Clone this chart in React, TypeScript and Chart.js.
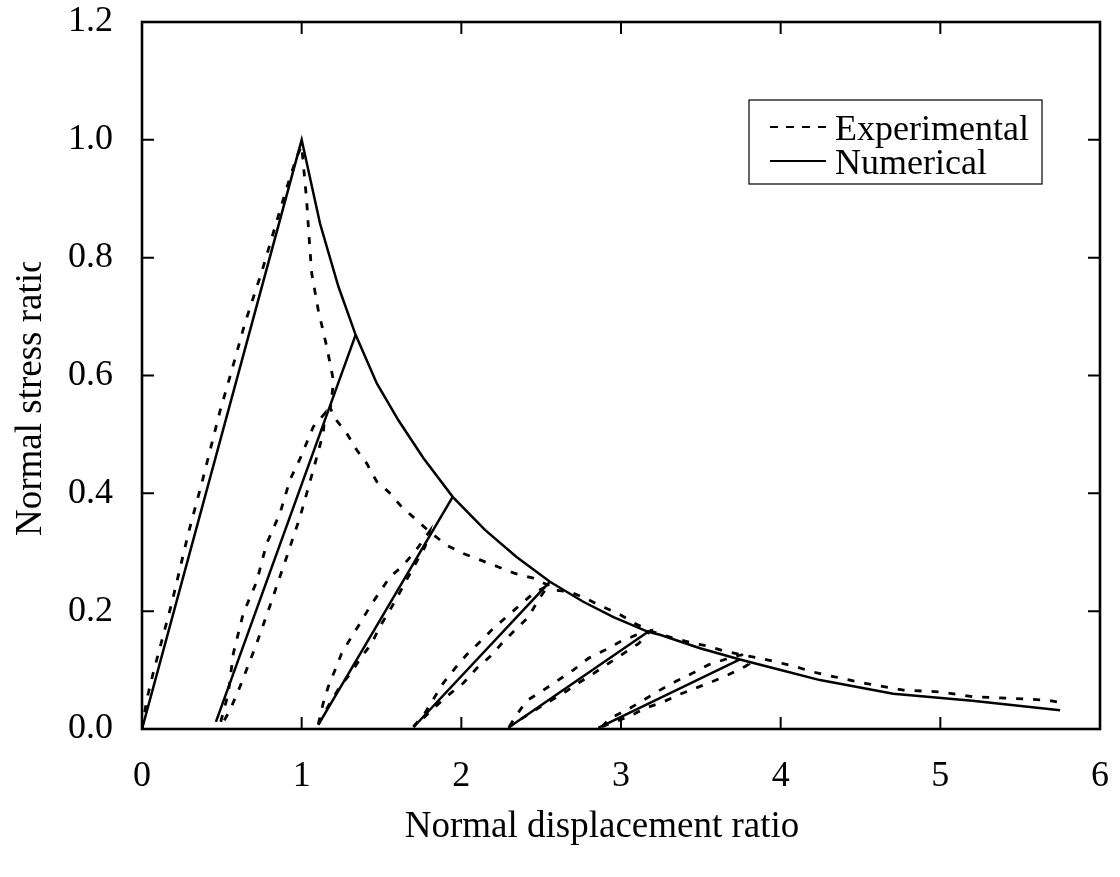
import React, { useEffect, useRef } from "react";
import { Chart, registerables } from "chart.js";

Chart.register(...registerables);

type P = [number, number];

const FONT = "'Liberation Serif', 'Times New Roman', Times, serif";
const FS = 36;
const TITLE_FS = 37;

const xTicks = [0, 1, 2, 3, 4, 5, 6];
const yTicks = [0, 0.2, 0.4, 0.6, 0.8, 1.0, 1.2];
const xTitle = "Normal displacement ratio";
const yTitle = "Normal stress ratio";
const legendLabels = ["Experimental", "Numerical"];

// ---------- Experimental (dashed) ----------
const expEnvelope: P[] = [
  [0, 0], [0.03, 0.05], [0.07, 0.095], [0.186, 0.213], [0.29, 0.332], [0.374, 0.417],
  [0.489, 0.54], [0.551, 0.598], [0.645, 0.689], [0.75, 0.776], [0.843, 0.861],
  [0.906, 0.918], [0.969, 0.971], [1.0, 0.99], [1.01, 0.96], [1.031, 0.898],
  [1.046, 0.836], [1.063, 0.773], [1.104, 0.711], [1.157, 0.649], [1.2, 0.59],
  [1.18, 0.545], [1.2, 0.53], [1.282, 0.502], [1.344, 0.474], [1.407, 0.451],
  [1.47, 0.42], [1.511, 0.411], [1.553, 0.4], [1.626, 0.377], [1.71, 0.357],
  [1.8, 0.335], [1.908, 0.312], [2.01, 0.298], [2.117, 0.287], [2.232, 0.275],
  [2.336, 0.264], [2.451, 0.256], [2.545, 0.244], [2.565, 0.236], [2.68, 0.233],
  [2.785, 0.221], [2.88, 0.208], [2.983, 0.196], [3.087, 0.179], [3.2, 0.165],
  [3.317, 0.155], [3.43, 0.147], [3.537, 0.141], [3.64, 0.133], [3.756, 0.126],
  [3.87, 0.12], [3.985, 0.113], [4.09, 0.106], [4.2, 0.097], [4.33, 0.089],
  [4.54, 0.077], [4.77, 0.066], [5.0, 0.063], [5.2, 0.055], [5.44, 0.052],
  [5.67, 0.049], [5.79, 0.043],
];

const expLoop2Upper: P[] = [
  [0.493, 0.012], [0.54, 0.06], [0.572, 0.128], [0.634, 0.196], [0.718, 0.25],
  [0.781, 0.315], [0.864, 0.366], [0.927, 0.423], [0.99, 0.459], [1.073, 0.513],
  [1.146, 0.536],
];
const expLoop2Lower: P[] = [
  [0.51, 0.012], [0.551, 0.032], [0.614, 0.072], [0.718, 0.145], [0.8, 0.208],
  [0.906, 0.292], [0.99, 0.36], [1.073, 0.44], [1.135, 0.502], [1.146, 0.536],
];

const expLoop3Upper: P[] = [
  [1.104, 0.008], [1.135, 0.044], [1.167, 0.072], [1.209, 0.1], [1.25, 0.128],
  [1.313, 0.157], [1.365, 0.179], [1.428, 0.208], [1.49, 0.233], [1.553, 0.258],
  [1.637, 0.278], [1.72, 0.305], [1.8, 0.335],
];
const expLoop3Lower: P[] = [
  [1.104, 0.008], [1.177, 0.044], [1.24, 0.072], [1.313, 0.097], [1.376, 0.123],
  [1.438, 0.145], [1.49, 0.174], [1.553, 0.202], [1.605, 0.227], [1.657, 0.253],
  [1.72, 0.284], [1.772, 0.309], [1.8, 0.335],
];

const expLoop4Upper: P[] = [
  [1.7, 0.004], [1.772, 0.027], [1.835, 0.055], [1.887, 0.078], [1.96, 0.103],
  [2.033, 0.126], [2.117, 0.148], [2.19, 0.168], [2.273, 0.188], [2.357, 0.208],
  [2.45, 0.23], [2.545, 0.244],
];
const expLoop4Lower: P[] = [
  [1.7, 0.004], [1.772, 0.021], [1.846, 0.04], [1.93, 0.06], [2.013, 0.078],
  [2.096, 0.103], [2.18, 0.123], [2.253, 0.145], [2.336, 0.168], [2.42, 0.19],
  [2.482, 0.219], [2.545, 0.244],
];

const expLoop5Upper: P[] = [
  [2.3, 0.004], [2.346, 0.024], [2.41, 0.048], [2.514, 0.066], [2.607, 0.083],
  [2.701, 0.1], [2.796, 0.12], [2.9, 0.134], [2.994, 0.148], [3.098, 0.16],
  [3.18, 0.166],
];
const expLoop5Lower: P[] = [
  [2.3, 0.004], [2.45, 0.03], [2.54, 0.045], [2.64, 0.061], [2.733, 0.078],
  [2.827, 0.094], [2.92, 0.111], [3.015, 0.128], [3.11, 0.145], [3.16, 0.16],
  [3.18, 0.166],
];

const expLoop6Upper: P[] = [
  [2.88, 0.004], [2.93, 0.018], [3.035, 0.032], [3.14, 0.049], [3.244, 0.066],
  [3.338, 0.08], [3.443, 0.094], [3.548, 0.109], [3.65, 0.118], [3.756, 0.126],
];
const expLoop6Lower: P[] = [
  [2.88, 0.004], [2.95, 0.011], [3.056, 0.022], [3.16, 0.036], [3.265, 0.046],
  [3.359, 0.058], [3.464, 0.069], [3.568, 0.08], [3.672, 0.092], [3.777, 0.106],
  [3.8, 0.11],
];

// ---------- Numerical (solid) ----------
const numEnvelope: P[] = [
  [0, 0], [1.0, 1.0], [1.115, 0.858], [1.23, 0.751], [1.338, 0.669], [1.47, 0.587],
  [1.606, 0.524], [1.762, 0.46], [1.946, 0.394], [2.148, 0.338], [2.346, 0.292],
  [2.555, 0.25], [2.764, 0.216], [2.953, 0.19], [3.17, 0.165], [3.244, 0.16],
  [3.495, 0.137], [3.745, 0.118], [4.0, 0.1], [4.246, 0.083], [4.705, 0.06],
  [5.2, 0.048], [5.75, 0.032],
];
const numBranch2: P[] = [[0.463, 0.012], [1.338, 0.669]];
const numBranch3: P[] = [[1.104, 0.007], [1.946, 0.394]];
const numBranch4: P[] = [[1.7, 0.003], [2.555, 0.25]];
const numBranch5: P[] = [[2.294, 0.002], [3.17, 0.165]];
const numBranch6: P[] = [[2.858, 0.002], [3.745, 0.118]];

const expSeries: P[][] = [
  expEnvelope,
  [...expLoop2Upper, ...expLoop2Lower.slice().reverse()],
  [...expLoop3Upper, ...expLoop3Lower.slice().reverse()],
  [...expLoop4Upper, ...expLoop4Lower.slice().reverse()],
  [...expLoop5Upper, ...expLoop5Lower.slice().reverse()],
  [...expLoop6Upper, ...expLoop6Lower.slice().reverse()],
];
const numSeries: P[][] = [numEnvelope, numBranch2, numBranch3, numBranch4, numBranch5, numBranch6];

const DATA_DASH = [7, 10];

const framePlugin = {
  id: "frameAndLegend",
  afterDraw(chart: any) {
    const { ctx, chartArea: a, scales } = chart;
    ctx.save();
    ctx.strokeStyle = "#000";
    ctx.setLineDash([]);
    // inward ticks
    ctx.lineWidth = 2;
    const TL = 12;
    ctx.beginPath();
    for (const v of xTicks) {
      const px = scales.x.getPixelForValue(v);
      ctx.moveTo(px, a.bottom);
      ctx.lineTo(px, a.bottom - TL);
      ctx.moveTo(px, a.top);
      ctx.lineTo(px, a.top + TL);
    }
    for (const v of yTicks) {
      const py = scales.y.getPixelForValue(v);
      ctx.moveTo(a.left, py);
      ctx.lineTo(a.left + TL, py);
      ctx.moveTo(a.right, py);
      ctx.lineTo(a.right - TL, py);
    }
    ctx.stroke();
    // frame
    ctx.lineWidth = 2.6;
    ctx.strokeRect(a.left, a.top, a.right - a.left, a.bottom - a.top);

    // legend
    const bx = a.right - 351;
    const by = a.top + 78;
    const bw = 293;
    const bh = 84;
    ctx.fillStyle = "#fff";
    ctx.fillRect(bx, by, bw, bh);
    ctx.lineWidth = 1.2;
    ctx.strokeRect(bx, by, bw, bh);
    const rows = [by + 27, by + 61];
    ctx.lineWidth = 2.2;
    ctx.setLineDash([8, 8]);
    ctx.beginPath();
    ctx.moveTo(bx + 21, rows[0]);
    ctx.lineTo(bx + 77, rows[0]);
    ctx.stroke();
    ctx.setLineDash([]);
    ctx.beginPath();
    ctx.moveTo(bx + 21, rows[1]);
    ctx.lineTo(bx + 77, rows[1]);
    ctx.stroke();
    ctx.fillStyle = "#000";
    ctx.font = `${FS}px ${FONT}`;
    ctx.textAlign = "left";
    ctx.textBaseline = "alphabetic";
    ctx.fillText(legendLabels[0], bx + 86, rows[0] + 12.5);
    ctx.fillText(legendLabels[1], bx + 86, rows[1] + 12.5);

    // x title
    ctx.font = `${TITLE_FS}px ${FONT}`;
    ctx.textAlign = "center";
    ctx.textBaseline = "middle";
    ctx.fillText(xTitle, (a.left + a.right) / 2 - 19, a.bottom + 98);

    // y title (clipped like the original)
    ctx.save();
    ctx.beginPath();
    ctx.rect(0, a.top + 240, a.left, chart.height);
    ctx.clip();
    ctx.translate(31, a.bottom - 193);
    ctx.rotate(-Math.PI / 2);
    ctx.textAlign = "left";
    ctx.textBaseline = "middle";
    ctx.fillText(yTitle, 0, 0);
    ctx.restore();

    ctx.restore();
  },
};

export default function App() {
  const ref = useRef<HTMLCanvasElement>(null);
  useEffect(() => {
    const canvas = ref.current!;
    const datasets: any[] = [];
    expSeries.forEach((s, i) => {
      datasets.push({
        label: i === 0 ? legendLabels[0] : `${legendLabels[0]} ${i}`,
        data: s.map(([x, y]) => ({ x, y })),
        showLine: true,
        borderColor: "#000",
        borderWidth: 2.8,
        borderDash: DATA_DASH,
        pointRadius: 0,
        fill: false,
        tension: 0,
      });
    });
    numSeries.forEach((s, i) => {
      datasets.push({
        label: i === 0 ? legendLabels[1] : `${legendLabels[1]} ${i}`,
        data: s.map(([x, y]) => ({ x, y })),
        showLine: true,
        borderColor: "#000",
        borderWidth: 2.5,
        pointRadius: 0,
        fill: false,
        tension: 0,
      });
    });

    const tickFont = { size: FS, family: FONT };
    const chart = new Chart(canvas, {
      type: "scatter",
      data: { datasets },
      options: {
        animation: false,
        responsive: false,
        devicePixelRatio: 1,
        layout: { padding: { top: 22, right: 20, left: 0, bottom: 0 } },
        plugins: { legend: { display: false }, tooltip: { enabled: false } },
        scales: {
          x: {
            type: "linear",
            min: 0,
            max: 6,
            afterBuildTicks: (s: any) => {
              s.ticks = xTicks.map((v) => ({ value: v }));
            },
            afterFit: (s: any) => {
              s.height = 148;
              s.paddingLeft = 0;
              s.paddingRight = 0;
              s.paddingTop = 0;
              s.paddingBottom = 0;
            },
            grid: { display: false, drawTicks: false },
            border: { display: false },
            ticks: {
              padding: 26,
              color: "#000",
              font: tickFont,
              maxRotation: 0,
              autoSkip: false,
              callback: (v: any) => String(v),
            },
          },
          y: {
            type: "linear",
            min: 0,
            max: 1.2,
            afterBuildTicks: (s: any) => {
              s.ticks = yTicks.map((v) => ({ value: v }));
            },
            afterFit: (s: any) => {
              s.width = 142;
              s.paddingLeft = 0;
              s.paddingRight = 0;
              s.paddingTop = 0;
              s.paddingBottom = 0;
            },
            grid: { display: false, drawTicks: false },
            border: { display: false },
            ticks: {
              padding: 29,
              color: "#000",
              font: tickFont,
              autoSkip: false,
              callback: (v: any) => Number(v).toFixed(1),
            },
          },
        },
      },
      plugins: [framePlugin],
    });
    return () => chart.destroy();
  }, []);
  return (
    <div style={{ position: "absolute", left: 0, top: 0, width: 1120, height: 877, background: "#fff" }}>
      <canvas ref={ref} width={1120} height={877} style={{ width: 1120, height: 877, display: "block" }} />
    </div>
  );
}
